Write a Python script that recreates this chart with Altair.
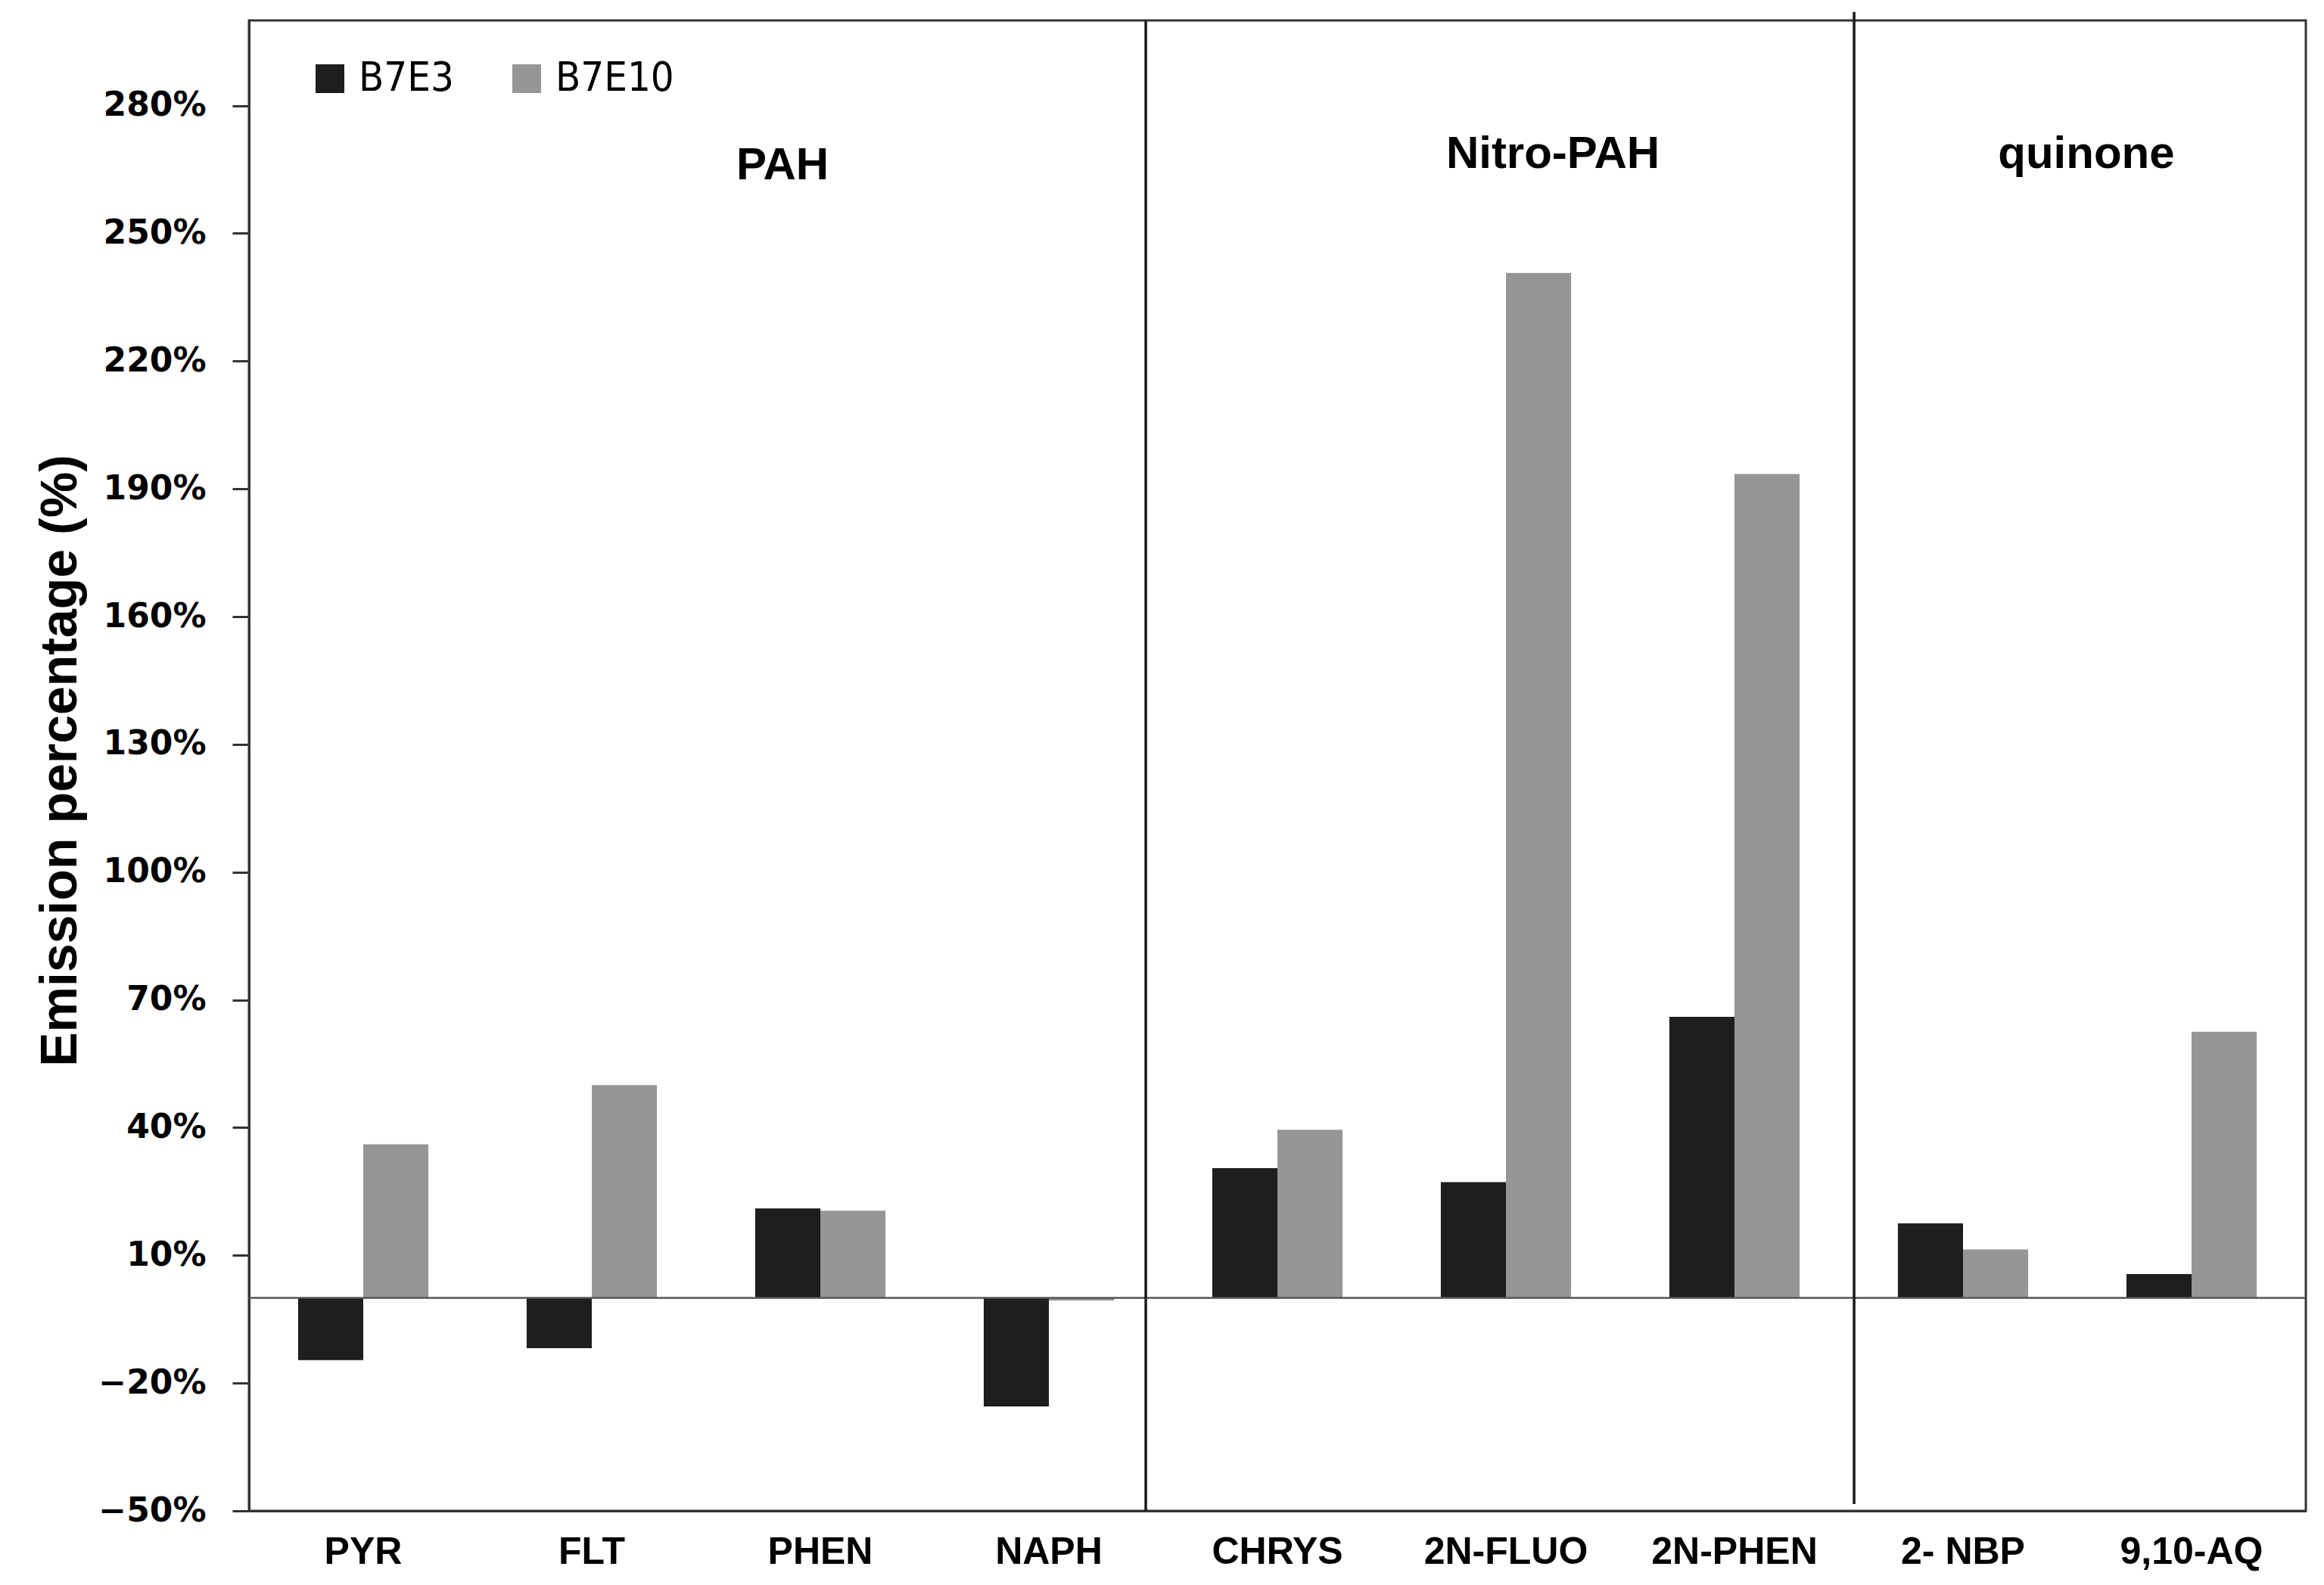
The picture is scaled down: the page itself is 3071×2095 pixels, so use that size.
import altair as alt
import pandas as pd

categories = ["PYR", "FLT", "PHEN", "NAPH", "CHRYS", "2N-FLUO", "2N-PHEN", "2- NBP", "9,10-AQ"]
series = ["B7E3", "B7E10"]
b7e3 = [-14.6, -11.8, 21.0, -25.5, 30.5, 27.2, 66.0, 17.5, 5.6]
b7e10 = [36.1, 50.0, 20.5, -0.6, 39.5, 240.7, 193.5, 11.4, 62.5]
colors = ["#1e1e1e", "#969696"]
y_ticks = [-50, -20, 10, 40, 70, 100, 130, 160, 190, 220, 250, 280]

groups = ["PAH", "Nitro-PAH", "quinone"]
group_anchor = ["PHEN", "2N-FLUO", "9,10-AQ"]
group_band = [0.21, 0.86, 0.0]
group_dx = [0, 0, -53]
group_y = [265.8, 268.6, 268.6]

sep_anchor = ["NAPH", "2N-PHEN"]
sep_shift = [42, 72]
sep_top = [300, 302]
sep_bottom = [-50, -48.4]

rows = []
for c, a, b in zip(categories, b7e3, b7e10):
    rows.append({"Compound": c, "Series": "B7E3", "Value": a})
    rows.append({"Compound": c, "Series": "B7E10", "Value": b})
df = pd.DataFrame(rows)

x_scale = alt.Scale(domain=categories, paddingInner=0.43, paddingOuter=0.215)
y_scale = alt.Scale(domain=[-50, 300], nice=False, zero=False)

bars = alt.Chart(df).mark_bar().encode(
    x=alt.X("Compound:N", scale=x_scale, sort=categories,
            axis=alt.Axis(title=None, labelAngle=0, ticks=False, labelPadding=29,
                          labelFont="Liberation Sans", labelFontWeight="bold",
                          labelFontSize=50, labelColor="#000", labelLimit=0,
                          domain=True, domainColor="#333", domainWidth=3)),
    xOffset=alt.XOffset("Series:N", scale=alt.Scale(domain=series, paddingInner=0, paddingOuter=0)),
    y=alt.Y("Value:Q", scale=y_scale,
            axis=alt.Axis(values=y_ticks, labelExpr="format(datum.value/100, '.0%')",
                          grid=False, labelFont="DejaVu Sans", labelFontWeight="bold",
                          labelFontSize=44, labelColor="#000", labelPadding=35,
                          tickSize=22, tickWidth=3, tickColor="#333",
                          domainColor="#333", domainWidth=3,
                          title="Emission percentage (%)", titleFont="Liberation Sans",
                          titleFontSize=68, titleFontWeight="bold", titleColor="#000",
                          titleX=-249, titleY=978, titleAlign="center",
                          titleBaseline="middle", titleAngle=270)),
    color=alt.Color("Series:N", scale=alt.Scale(domain=series, range=colors),
                    legend=alt.Legend(title=None, orient="none", legendX=80, legendY=50,
                                      direction="horizontal", symbolType="square",
                                      symbolSize=1444, symbolStrokeWidth=0,
                                      labelFont="DejaVu Sans Condensed", labelFontSize=54,
                                      labelColor="#000", labelOffset=11,
                                      columnPadding=69, padding=0)),
)

zero = alt.Chart(pd.DataFrame({"zero": [0]})).mark_rule(color="#555", strokeWidth=2.5).encode(
    y=alt.Y("zero:Q", scale=y_scale)
)

layers = [bars, zero]

for anc, shift, top, bot in zip(sep_anchor, sep_shift, sep_top, sep_bottom):
    d = pd.DataFrame({"Compound": [anc], "top": [top], "bot": [bot]})
    layers.append(
        alt.Chart(d).mark_rule(color="#1a1a1a", strokeWidth=3.5, xOffset=shift).encode(
            x=alt.X("Compound:N", scale=x_scale, bandPosition=1),
            y=alt.Y("top:Q", scale=y_scale),
            y2="bot:Q",
        )
    )

for g, anc, band, dx, yy in zip(groups, group_anchor, group_band, group_dx, group_y):
    d = pd.DataFrame({"Compound": [anc], "label": [g], "yy": [yy]})
    layers.append(
        alt.Chart(d).mark_text(font="Liberation Sans", fontWeight="bold", fontSize=60,
                               color="#000", align="center", baseline="middle", dx=dx).encode(
            x=alt.X("Compound:N", scale=x_scale, bandPosition=band),
            y=alt.Y("yy:Q", scale=y_scale),
            text="label:N",
        )
    )

chart = alt.layer(*layers).properties(
    width=2718, height=1970,
    autosize=alt.AutoSizeParams(type="none"),
    padding={"left": 321, "top": 19, "right": 10, "bottom": 80},
    view=alt.ViewBackground(stroke="#333", strokeWidth=3, strokeOpacity=1),
).configure_view(stroke="#333", strokeWidth=3, strokeOpacity=1).configure(font="Liberation Sans")

chart.save("out.html", embed_options={"renderer": "svg", "actions": False})
